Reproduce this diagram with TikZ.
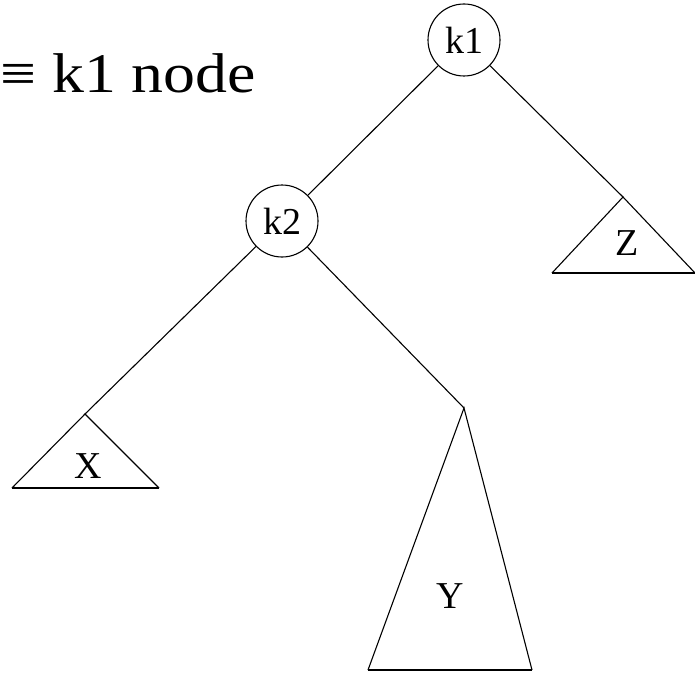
\documentclass[tikz,border=0pt]{standalone}
\usepackage{fontspec}
\setmainfont{Liberation Serif}

\tikzset{
  keynode/.style={draw, circle, line width=1.1pt, minimum size=72pt, inner sep=0pt,
    font=\fontsize{38}{40}\selectfont},
  subtree/.style={line width=1.1pt, line join=miter},
  treebase/.style={line width=2pt},
  treelabel/.style={inner sep=0pt, font=\fontsize{38}{40}\selectfont},
  edge/.style={line width=1.1pt}
}

\begin{document}
\begin{tikzpicture}[x=1pt, y=-1pt]
  \useasboundingbox (0,0) rectangle (695,674);

  % caption in the corner
  \node[anchor=base west, inner sep=0pt, xscale=1.14, font=\fontsize{56}{60}\selectfont] (cap) at (0,93) {≡ k1 node};

  % the two keys
  \node[keynode] (k1) at (464,40) {k1};
  \node[keynode] (k2) at (282,221) {k2};

  % tops of the three subtrees
  \coordinate (xTop) at (85,414);
  \coordinate (yTop) at (464,408);
  \coordinate (zTop) at (623,197);

  % subtrees: thin sides, heavier base
  \draw[subtree] (12,488) -- (xTop) -- (159,488);
  \draw[treebase] (12,488) -- (159,488);
  \node[treelabel] (xLab) at (88,466) {X};

  \draw[subtree] (368,670) -- (yTop) -- (532,670);
  \draw[treebase] (368,670) -- (532,670);
  \node[treelabel] (yLab) at (450,596) {Y};

  \draw[subtree] (552,273) -- (zTop) -- (695,273);
  \draw[treebase] (552,273) -- (695,273);
  \node[treelabel] (zLab) at (627,243) {Z};

  % links
  \draw[edge] (k1) -- (k2);
  \draw[edge] (k1) -- (zTop);
  \draw[edge] (k2) -- (xTop);
  \draw[edge] (k2) -- (yTop);

\end{tikzpicture}
\end{document}
